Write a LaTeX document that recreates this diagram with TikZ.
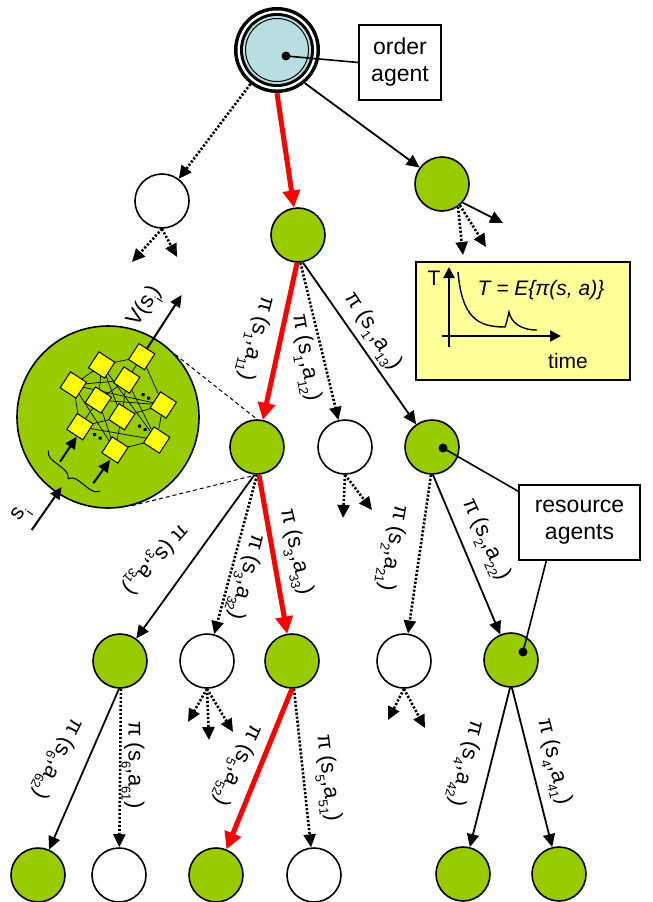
\documentclass[tikz,border=0pt]{standalone}
\usepackage{fontspec}
\setmainfont{Liberation Sans}
\usetikzlibrary{arrows.meta,calc,decorations.pathreplacing}

\definecolor{leaf}{HTML}{99CC00}
\definecolor{rootblue}{HTML}{B9DEE2}
\definecolor{notepad}{HTML}{FFFF99}
\definecolor{neuron}{HTML}{FFFF00}
\definecolor{bestpath}{HTML}{FF0000}

% lowered index for the policy labels
\newcommand\lo[1]{\raisebox{-0.32em}{\fontsize{13}{13}\selectfont #1}}

\tikzset{
  state/.style={circle, draw, line width=1.6pt, minimum size=54pt, inner sep=0pt},
  active/.style={state, fill=leaf},
  idle/.style={state, fill=white},
  move/.style={line width=1.8pt, -{Triangle[length=13pt,width=12pt]}},
  probe/.style={line width=2.6pt, dash pattern=on 2.2pt off 1.8pt, -{Triangle[length=13pt,width=12pt]}},
  best/.style={line width=5pt, draw=bestpath, -{Triangle[length=17pt,width=17pt]}},
  policy/.style={font=\fontsize{22}{24}\selectfont, inner sep=1pt},
  callout/.style={draw, line width=1.4pt, fill=white, align=center, inner sep=0pt,
                  font=\fontsize{23}{27}\selectfont},
  neuronbox/.style={draw, fill=neuron, minimum size=19pt, inner sep=0pt, rotate=-33, line width=1pt},
  wire/.style={line width=0.7pt},
  zoomline/.style={line width=1pt, dash pattern=on 4pt off 3pt},
  agentdot/.style={circle, fill, minimum size=9pt, inner sep=0pt},
}

\begin{document}
\begin{tikzpicture}[x=1pt,y=-1pt]
\useasboundingbox (0,0) rectangle (653,902);

% ---------- order agent (root) ----------
\node[circle, minimum size=86pt, inner sep=0pt] (root) at (277,50) {};
\fill (root.center) circle[radius=43];
\fill[white] (root.center) circle[radius=39.5];
\fill (root.center) circle[radius=37];
\fill[rootblue] (root.center) circle[radius=34];
\draw[line width=1pt] (root.center) circle[radius=31.5];
\node[agentdot] (rootdot) at (286,56) {};

\node[callout, minimum width=82pt, minimum height=75pt] (orderbox) at (400,62.5) {order\\agent};
\draw[line width=1.6pt] (rootdot.center) -- (orderbox.west);

% ---------- level 1 ----------
\node[idle]   (a1) at (162,201) {};
\node[active] (g1) at (298,235) {};
\node[active] (g2) at (442,184) {};

\draw[probe] (root.232) -- (a1);
\draw[best]  (root.south) -- (g1);
\draw[move]  (root.-50) -- (g2);

\coordinate (a1l) at (132,262);
\coordinate (a1r) at (177,257);
\draw[probe] (a1.south) -- (a1l);
\draw[probe] (a1.south) -- (a1r);

\coordinate (g2s) at (503,223);
\coordinate (g2d) at (463,255);
\coordinate (g2m) at (486,247);
\draw[move]  (g2.-42) -- (g2s);
\draw[probe] (g2.-55) -- (g2d);
\draw[probe] (g2.-50) -- (g2m);

% ---------- value chart ----------
\node[draw, line width=1.4pt, fill=notepad, minimum width=214pt, minimum height=118pt] (chart) at (523,321) {};
\coordinate (tbase) at (449,347);
\coordinate (ttop) at (449,267);
\coordinate (xbase) at (442,336);
\coordinate (xend) at (561,336);
\draw[line width=2.2pt, -{Triangle[length=11pt,width=11pt]}] (tbase) -- (ttop);
\draw[line width=2.2pt, -{Triangle[length=11pt,width=11pt]}] (xbase) -- (xend);
\draw[line width=1.4pt] (458,272) .. controls (462,318) and (478,327) .. (505,327)
  .. controls (507,322) and (508,316) .. (509,312)
  .. controls (511,322) and (520,330) .. (537,330);
\node[font=\fontsize{21}{24}\selectfont, inner sep=0pt] (tlabel) at (434,278) {T};
\node[font=\fontsize{21}{24}\selectfont\itshape, inner sep=0pt] (tformula) at (541,290) {T = E\{π(s, a)\}};
\node[font=\fontsize{21}{24}\selectfont, inner sep=0pt] (timelabel) at (568,361) {time};

% ---------- level 2 ----------
\node[active] (g3) at (257,447) {};
\node[idle]   (w2) at (345,447) {};
\node[active] (g4) at (432,447) {};

\draw[best]  (g1.-92) -- (g3);
\draw[probe] (g1.-85) -- (w2);
\draw[move]  (g1.-80) -- (g4);

\node[policy, rotate=-105] (p11) at (255,338) {π (s\lo{1},a\lo{11})};
\node[policy, rotate=-80]  (p12) at (305,358) {π (s\lo{1},a\lo{12})};
\node[policy, rotate=-57]  (p13) at (372,332) {π (s\lo{1},a\lo{13})};

\coordinate (w2l) at (343,518);
\coordinate (w2r) at (372,510);
\draw[probe] (w2.south) -- (w2l);
\draw[probe] (w2.south) -- (w2r);

% ---------- neural value estimator ----------
\node[circle, draw, line width=1.6pt, fill=leaf, minimum size=182pt, inner sep=0pt] (netview) at (108,417) {};
\draw[zoomline] (netview.43) -- (g3.north);
\draw[zoomline] (netview.-75) -- (g3.south);

\coordinate (n1)  at (141.7,356.7);
\coordinate (n2)  at (101.7,365);
\coordinate (n3)  at (126.7,380);
\coordinate (n5)  at (163.3,405);
\coordinate (n4)  at (73.3,385);
\coordinate (n6)  at (98.3,400);
\coordinate (n7)  at (121.7,416.7);
\coordinate (n9)  at (156.7,440);
\coordinate (n8)  at (80,426.7);
\coordinate (n10) at (115,450);

\foreach \u in {n8,n10}{\foreach \v in {n4,n6,n7,n9}{\draw[wire] (\u) -- (\v);}}
\foreach \u in {n4,n6,n7,n9}{\foreach \v in {n2,n3,n5}{\draw[wire] (\u) -- (\v);}}
\foreach \u in {n2,n3,n5}{\draw[wire] (\u) -- (n1);}

\coordinate (vtip) at (181.7,295);
\draw[line width=2pt, -{Triangle[length=12pt,width=11pt]}] (n1) -- (vtip);
\node[policy, rotate=57] (vlabel) at (146,307) {V(s\lo{i})};

\foreach \n in {n1,n2,n3,n4,n5,n6,n7,n8,n9,n10}{\node[neuronbox] at (\n) {};}
\foreach \p in {(145,395),(141.7,426.7),(96.7,435)}{
  \fill[shift={\p}] (-3.5,-2) rectangle +(3,3) (2,1.5) rectangle +(3,3);
}

\coordinate (sfrom) at (31.7,530);
\coordinate (sto) at (61.7,487);
\draw[line width=2pt, -{Triangle[length=12pt,width=11pt]}] (sfrom) -- (sto);
\node[policy, rotate=55] (slabel) at (22,514) {s\lo{i}};

\coordinate (braceA) at (100,491);
\coordinate (braceB) at (48.3,450.7);
\draw[line width=1pt, decorate, decoration={brace, amplitude=10pt}] (braceA) -- (braceB);
\coordinate (in1from) at (60,461.7);
\coordinate (in2from) at (93.3,483.3);
\draw[line width=2pt, -{Triangle[length=12pt,width=11pt]}] (in1from) -- (76.7,436.7);
\draw[line width=2pt, -{Triangle[length=12pt,width=11pt]}] (in2from) -- (110,460);

% ---------- resource agents ----------
\node[active] (g5) at (120,661) {};
\node[idle]   (w3) at (207,661) {};
\node[active] (g6) at (292,661) {};
\node[idle]   (w4) at (404,661) {};
\node[active] (g7) at (511,660) {};

\draw[move]  (g3.-95) -- (g5);
\draw[probe] (g3.-90) -- (w3);
\draw[best]  (g3.-86) -- (g6);
\node[policy, rotate=-132] (p31) at (155,559) {π (s\lo{3},a\lo{31})};
\node[policy, rotate=-105] (p32) at (245,577) {π (s\lo{3},a\lo{32})};
\node[policy, rotate=-77]  (p33) at (295,552) {π (s\lo{3},a\lo{33})};

\draw[probe] (g4.-92) -- (w4);
\draw[move]  (g4.-88) -- (g7);
\node[policy, rotate=-100] (p21) at (392,548) {π (s\lo{2},a\lo{21})};
\node[policy, rotate=-65]  (p22) at (485,540) {π (s\lo{2},a\lo{22})};

\node[agentdot] (g4dot) at (443,448) {};
\node[agentdot] (g7dot) at (523,652) {};
\node[callout, minimum width=121pt, minimum height=75pt] (resbox) at (579.5,522.5) {resource\\agents};
\draw[line width=1.6pt] (g4dot.center) -- (resbox.153);
\draw[line width=1.6pt] (g7dot.center) -- (resbox.229);

\coordinate (w3a) at (188,722);
\coordinate (w3b) at (209,740);
\coordinate (w3c) at (233,732);
\draw[probe] (w3.south) -- (w3a);
\draw[probe] (w3.south) -- (w3b);
\draw[probe] (w3.south) -- (w3c);

\coordinate (w4a) at (388,720);
\coordinate (w4b) at (425,728);
\draw[probe] (w4.south) -- (w4a);
\draw[probe] (w4.south) -- (w4b);

% ---------- leaves ----------
\node[active] (b1) at (38,875) {};
\node[idle]   (b2) at (119,875) {};
\node[active] (b3) at (216,875) {};
\node[idle]   (b4) at (314,875) {};
\node[active] (b5) at (463,874) {};
\node[active] (b6) at (559,874) {};

\draw[move]  (g5.-92) -- (b1);
\draw[probe] (g5.-88) -- (b2);
\node[policy, rotate=-117] (p62) at (57,758) {π (s\lo{6},a\lo{62})};
\node[policy, rotate=-90]  (p61) at (133,765) {π (s\lo{6},a\lo{61})};

\draw[best]  (g6.-90) -- (b3);
\draw[probe] (g6.-86) -- (b4);
\node[policy, rotate=-115] (p52) at (237,765) {π (s\lo{5},a\lo{52})};
\node[policy, rotate=-83]  (p51) at (327,778) {π (s\lo{5},a\lo{51})};

\draw[move] (g7.-92) -- (b5);
\draw[move] (g7.-88) -- (b6);
\node[policy, rotate=-104] (p42) at (465,763) {π (s\lo{4},a\lo{42})};
\node[policy, rotate=-76]  (p41) at (553,762) {π (s\lo{4},a\lo{41})};

\end{tikzpicture}
\end{document}
